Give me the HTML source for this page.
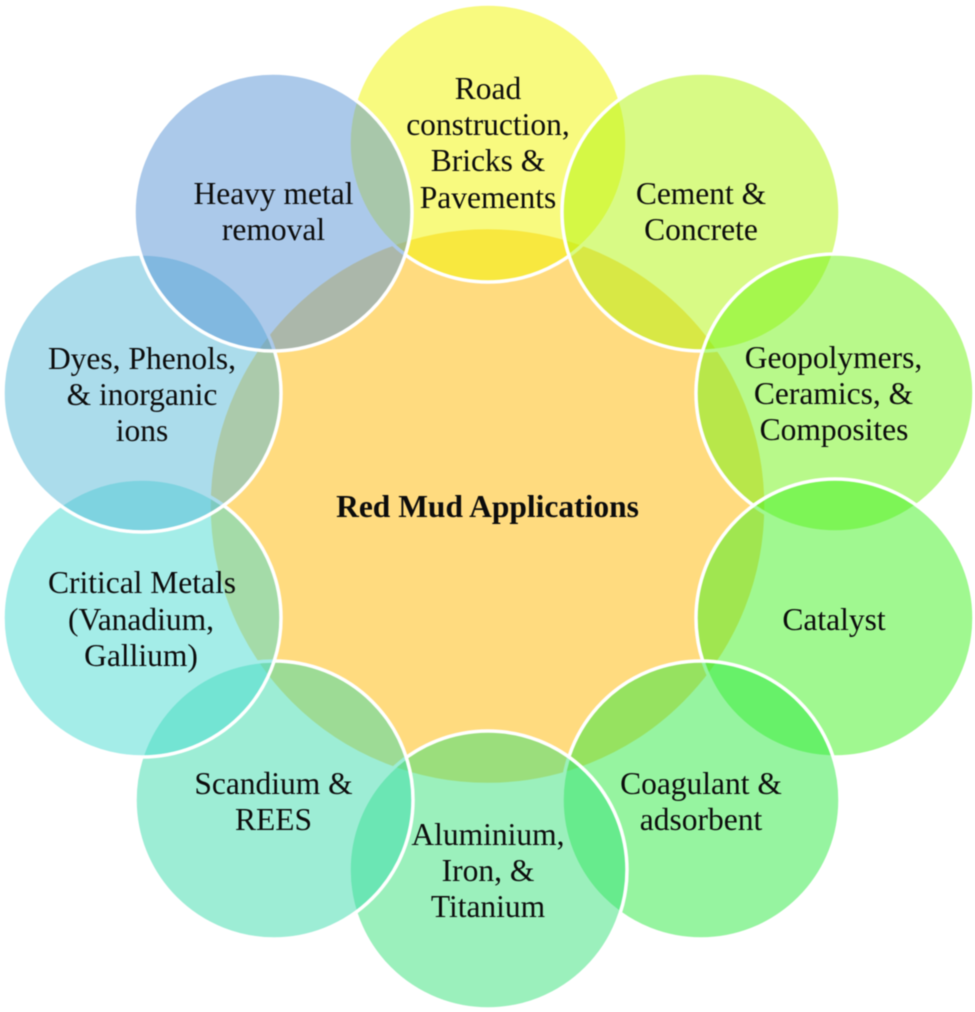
<!DOCTYPE html>
<html><head><meta charset="utf-8"><style>
html,body{margin:0;padding:0;background:#fff}
svg{display:block;filter:blur(.4px)}
text{font-family:"Liberation Serif",serif;font-size:31.5px;fill:#0c0c0c;text-anchor:middle}
circle{stroke:#fff;stroke-width:3.5}
</style></head><body>
<svg width="975" height="1012" viewBox="0 0 975 1012" xmlns="http://www.w3.org/2000/svg">
<rect width="975" height="1012" fill="#fff"/>
<circle cx="487.5" cy="506" r="278.5" fill="#FFB700" fill-opacity=".5"/>
<circle cx="488" cy="143" r="139" fill="#F1F500" fill-opacity=".5"/>
<circle cx="701" cy="212" r="139" fill="#B1F50B" fill-opacity=".5"/>
<circle cx="835" cy="393" r="139" fill="#71F315" fill-opacity=".5"/>
<circle cx="835" cy="618" r="139" fill="#41F121" fill-opacity=".5"/>
<circle cx="701" cy="800" r="139" fill="#2DE941" fill-opacity=".5"/>
<circle cx="488" cy="870" r="139" fill="#37E179" fill-opacity=".5"/>
<circle cx="274" cy="800" r="139" fill="#3BDBAB" fill-opacity=".5"/>
<circle cx="142" cy="618" r="139" fill="#49DBD1" fill-opacity=".5"/>
<circle cx="142" cy="393" r="139" fill="#57B9D7" fill-opacity=".5"/>
<circle cx="273" cy="212" r="139" fill="#5793D5" fill-opacity=".5"/>
<text x="487.5" y="517" style="font-weight:bold">Red Mud Applications</text>
<text x="488" y="99">Road</text>
<text x="488" y="135">construction,</text>
<text x="488" y="171">Bricks &amp;</text>
<text x="488" y="208">Pavements</text>
<text x="701" y="204">Cement &amp;</text>
<text x="701" y="240">Concrete</text>
<text x="833.5" y="368">Geopolymers,</text>
<text x="833.5" y="404">Ceramics, &amp;</text>
<text x="834" y="440">Composites</text>
<text x="834" y="630">Catalyst</text>
<text x="701" y="794">Coagulant &amp;</text>
<text x="701" y="830">adsorbent</text>
<text x="488" y="845">Aluminium,</text>
<text x="488" y="881">Iron, &amp;</text>
<text x="488" y="917">Titanium</text>
<text x="273.5" y="794">Scandium &amp;</text>
<text x="273.5" y="830">REES</text>
<text x="142" y="593">Critical Metals</text>
<text x="141" y="630">(Vanadium,</text>
<text x="141" y="666">Gallium)</text>
<text x="142" y="369">Dyes, Phenols,</text>
<text x="142" y="405">&amp; inorganic</text>
<text x="142" y="441">ions</text>
<text x="273.5" y="204">Heavy metal</text>
<text x="273.5" y="240">removal</text>
</svg>
</body></html>
